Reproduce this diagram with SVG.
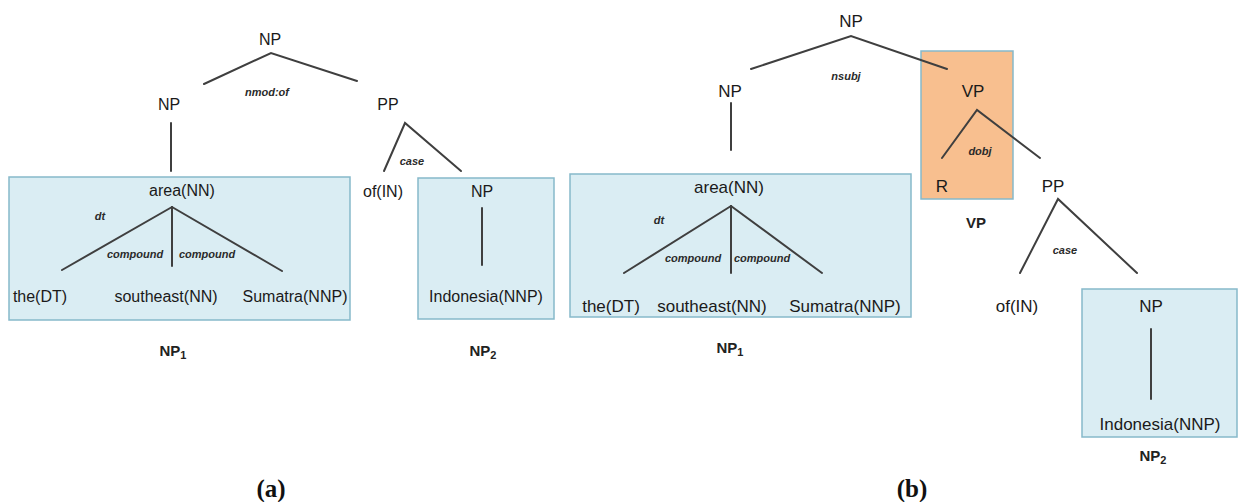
<svg xmlns="http://www.w3.org/2000/svg" width="1239" height="502" viewBox="0 0 1239 502">
<style>
.bg{fill:#ffffff}
.box{fill:#daedf3;stroke:#86b9ca;stroke-width:1.5}
.obox{fill:#f8bf8f;stroke:#86b9ca;stroke-width:1.5}
.ln{fill:none;stroke:#3f3f3f;stroke-width:2;stroke-linecap:round;stroke-linejoin:miter}
text{font-family:"Liberation Sans",Arial,sans-serif;fill:#1a1a1a;text-anchor:middle}
.n16{font-size:16px}
.n17{font-size:17px}
.rel{font-size:11px;font-style:italic;font-weight:bold;fill:#2a2a2a}
.tag{font-size:15px;font-weight:bold;fill:#222}
.cap{font-family:"Liberation Serif","Times New Roman",serif;font-size:25px;font-weight:bold;fill:#111}
</style>
<rect class="bg" x="0" y="0" width="1239" height="502"/>

<g id="boxes">
  <rect id="box-a-np1" class="box" x="9" y="177" width="341" height="143"/>
  <rect id="box-a-np2" class="box" x="418" y="178" width="136" height="141"/>
  <rect id="box-b-np1" class="box" x="570" y="174" width="341" height="143"/>
  <rect id="box-b-vp" class="obox" x="921" y="51" width="92" height="148"/>
  <rect id="box-b-np2" class="box" x="1082" y="289" width="155" height="148"/>
</g>

<g id="connectors">
  <polyline class="ln" points="204,84 271,53 357,81"/>
  <line class="ln" x1="171" y1="123" x2="171" y2="171"/>
  <polyline class="ln" points="384,171 405,123 461,171"/>
  <line class="ln" x1="172" y1="207" x2="62" y2="270"/>
  <line class="ln" x1="172" y1="207" x2="172" y2="266"/>
  <line class="ln" x1="172" y1="207" x2="282" y2="271"/>
  <line class="ln" x1="482" y1="208" x2="482" y2="265"/>

  <polyline class="ln" points="751,69 851,36 947,69"/>
  <line class="ln" x1="731" y1="103" x2="731" y2="150"/>
  <polyline class="ln" points="942,158 977,110 1040,158"/>
  <polyline class="ln" points="1020,273 1058,199 1137,273"/>
  <line class="ln" x1="731" y1="206" x2="624" y2="273"/>
  <line class="ln" x1="731" y1="206" x2="731" y2="273"/>
  <line class="ln" x1="731" y1="206" x2="822" y2="273"/>
  <line class="ln" x1="1151" y1="329" x2="1151" y2="399"/>
</g>

<g id="tree-a">
  <g id="a-np-root"><text class="n16" x="270" y="45">NP</text></g>
  <g id="a-rel-nmod"><text class="rel" x="267" y="96">nmod:of</text></g>
  <g id="a-np"><text class="n16" x="169" y="110">NP</text></g>
  <g id="a-pp"><text class="n16" x="388" y="110">PP</text></g>
  <g id="a-rel-case"><text class="rel" x="412" y="165">case</text></g>
  <g id="a-area"><text class="n16" x="182" y="196">area(NN)</text></g>
  <g id="a-rel-dt"><text class="rel" x="100" y="220">dt</text></g>
  <g id="a-rel-comp1"><text class="rel" x="135" y="258">compound</text></g>
  <g id="a-rel-comp2"><text class="rel" x="207" y="258">compound</text></g>
  <g id="a-the"><text class="n16" x="40" y="302">the(DT)</text></g>
  <g id="a-southeast"><text class="n16" x="166" y="302">southeast(NN)</text></g>
  <g id="a-sumatra"><text class="n16" x="295" y="302">Sumatra(NNP)</text></g>
  <g id="a-of"><text class="n16" x="383" y="197">of(IN)</text></g>
  <g id="a-np2"><text class="n16" x="482" y="197">NP</text></g>
  <g id="a-indonesia"><text class="n16" x="486" y="302">Indonesia(NNP)</text></g>
  <g id="a-tag-np1"><text class="tag" x="173" y="356">NP<tspan font-size="11" dy="3">1</tspan></text></g>
  <g id="a-tag-np2"><text class="tag" x="483" y="356">NP<tspan font-size="11" dy="3">2</tspan></text></g>
  <g id="a-caption"><text class="cap" x="271" y="497">(a)</text></g>
</g>

<g id="tree-b">
  <g id="b-np-root"><text class="n17" x="851" y="27">NP</text></g>
  <g id="b-rel-nsubj"><text class="rel" x="846" y="80">nsubj</text></g>
  <g id="b-np"><text class="n17" x="730" y="97">NP</text></g>
  <g id="b-vp"><text class="n17" x="973" y="97">VP</text></g>
  <g id="b-rel-dobj"><text class="rel" x="980" y="155">dobj</text></g>
  <g id="b-r"><text class="n17" x="942" y="192">R</text></g>
  <g id="b-pp"><text class="n17" x="1053" y="192">PP</text></g>
  <g id="b-tag-vp"><text class="tag" x="976" y="228">VP</text></g>
  <g id="b-rel-case"><text class="rel" x="1065" y="254">case</text></g>
  <g id="b-area"><text class="n17" x="729" y="193">area(NN)</text></g>
  <g id="b-rel-dt"><text class="rel" x="659" y="224">dt</text></g>
  <g id="b-rel-comp1"><text class="rel" x="693" y="262">compound</text></g>
  <g id="b-rel-comp2"><text class="rel" x="762" y="262">compound</text></g>
  <g id="b-the"><text class="n17" x="611" y="312">the(DT)</text></g>
  <g id="b-southeast"><text class="n17" x="712" y="312">southeast(NN)</text></g>
  <g id="b-sumatra"><text class="n17" x="845" y="312">Sumatra(NNP)</text></g>
  <g id="b-of"><text class="n17" x="1017" y="312">of(IN)</text></g>
  <g id="b-np2"><text class="n17" x="1151" y="312">NP</text></g>
  <g id="b-indonesia"><text class="n17" x="1160" y="430">Indonesia(NNP)</text></g>
  <g id="b-tag-np1"><text class="tag" x="730" y="353">NP<tspan font-size="11" dy="3">1</tspan></text></g>
  <g id="b-tag-np2"><text class="tag" x="1153" y="461">NP<tspan font-size="11" dy="3">2</tspan></text></g>
  <g id="b-caption"><text class="cap" x="912" y="497">(b)</text></g>
</g>
</svg>
